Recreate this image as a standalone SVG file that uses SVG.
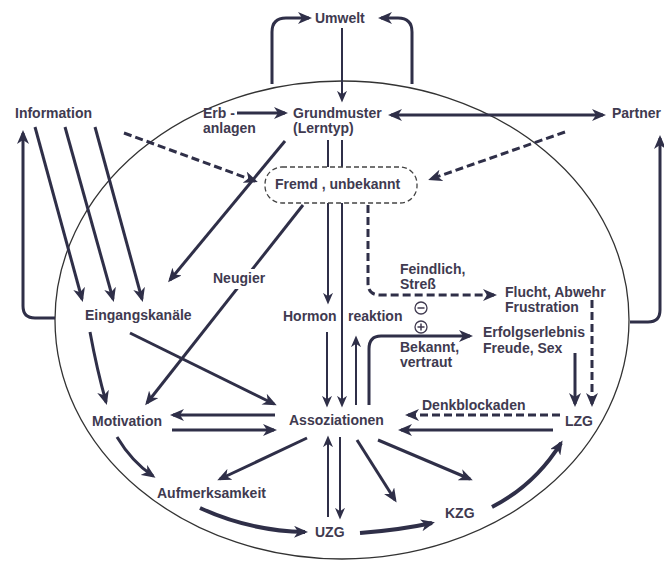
<svg xmlns="http://www.w3.org/2000/svg" width="664" height="565" viewBox="0 0 664 565">
<style>
text{font-family:"Liberation Sans",Arial,sans-serif;font-weight:bold;font-size:14px;fill:#403a50}
.c{fill:none;stroke:#2f2f48;stroke-width:3}
.t{stroke-width:2}
.k{stroke-width:4}
.d{stroke-dasharray:8 4}
.m{marker-end:url(#ah)}
.ms{marker-end:url(#ahs)}
</style>
<defs>
<marker id="ah" viewBox="0 0 14 12" refX="11" refY="6" markerWidth="14" markerHeight="12" markerUnits="userSpaceOnUse" orient="auto-start-reverse"><path d="M0,0 L14,6 L0,12 L4,6 z" fill="#2f2f48"/></marker>
<marker id="ahs" viewBox="0 0 14 12" refX="11" refY="6" markerWidth="12" markerHeight="10" markerUnits="userSpaceOnUse" orient="auto-start-reverse"><path d="M0,0 L14,6 L0,12 L4,6 z" fill="#2f2f48"/></marker>
</defs>
<rect width="664" height="565" fill="#fff"/>
<ellipse id="boundary" cx="342" cy="320" rx="287" ry="239" fill="none" stroke="#333" stroke-width="1.3"/>
<g id="connectors">
<path class="c m" d="M272,84 V32 Q272,18 286,18 H309"/>
<path class="c m" d="M412,84 V32 Q412,18 398,18 H381"/>
<path class="c t ms" d="M342,28 V100"/>
<path class="c m" d="M237,113 H285"/>
<path class="c m" d="M391,115 H603" marker-start="url(#ah)"/>
<path class="c m" d="M630,322 H648 Q660,322 660,310 V138"/>
<path class="c m" d="M55,318 H35 Q23,318 23,306 V133"/>
<path class="c m" d="M35,127 L82,299"/>
<path class="c m" d="M65,127 L113,299"/>
<path class="c m" d="M95,127 L142,299"/>
<path class="c d m" d="M124,133 L255,181"/>
<path class="c d m" d="M565,132 L431,179"/>
<path class="c m" d="M285,141 L170,280"/>
<path class="c m" d="M303,205 L147,403"/>
<path class="c t ms" d="M328,140 V302"/>
<path class="c t ms" d="M342,140 V405"/>
<path class="c t ms" d="M327,332 V405"/>
<path class="c t ms" d="M356,405 V338"/>
<path class="c m" d="M369,405 V349 Q369,336 381,336 H470"/>
<path class="c d m" d="M368,205 V283 Q368,295 380,295 H494"/>
<path class="c d m" d="M592,300 V404"/>
<path class="c m" d="M575,353 V404"/>
<path class="c d m" d="M560,415 H408"/>
<path class="c m" d="M553,430 H401"/>
<path class="c m" d="M275,415 H173"/>
<path class="c m" d="M172,430 H274"/>
<path class="c m" d="M90,332 Q97,370 106,402"/>
<path class="c m" d="M130,333 L274,404"/>
<path class="c m" d="M117,437 Q132,462 153,476"/>
<path class="c m" d="M307,438 L220,479"/>
<path class="c k m" d="M200,508 Q250,531 305,532"/>
<path class="c t ms" d="M328,517 V438"/>
<path class="c t ms" d="M340,437 V517"/>
<path class="c m" d="M357,440 L395,500"/>
<path class="c m" d="M378,440 L470,479"/>
<path class="c k m" d="M360,533 Q400,530 432,523"/>
<path class="c k m" d="M492,507 Q535,485 561,443"/>
</g>
<g id="umwelt"><text x="315" y="23">Umwelt</text></g>
<g id="information"><text x="15" y="118">Information</text></g>
<g id="erbanlagen"><text x="203" y="118">Erb -</text><text x="203" y="133">anlagen</text></g>
<g id="grundmuster"><text x="293" y="118">Grundmuster</text><text x="293" y="133">(Lerntyp)</text></g>
<g id="partner"><text x="612" y="118">Partner</text></g>
<g id="fremd"><rect x="265" y="167" width="152" height="36" rx="17" fill="#fff" stroke="#444" stroke-width="1.3" stroke-dasharray="5 3"/><text x="275" y="189">Fremd , unbekannt</text></g>
<g id="neugier"><rect x="210" y="269" width="61" height="20" fill="#fff"/><text x="213" y="283">Neugier</text></g>
<g id="eingangskanaele"><text x="85" y="320">Eingangskanäle</text></g>
<g id="hormonreaktion"><text x="283" y="321">Hormon</text><text x="348" y="321">reaktion</text></g>
<g id="feindlich"><text x="400" y="274">Feindlich,</text><text x="400" y="289">Streß</text></g>
<g id="flucht"><text x="505" y="297">Flucht, Abwehr</text><text x="505" y="312">Frustration</text></g>
<g id="signs"><circle cx="421" cy="308" r="6" fill="#fff" stroke="#403a50" stroke-width="1.3"/><path d="M417.5,308 H424.5" stroke="#403a50" stroke-width="1.5"/><circle cx="421" cy="327" r="6" fill="#fff" stroke="#403a50" stroke-width="1.3"/><path d="M417.5,327 H424.5 M421,323.5 V330.5" stroke="#403a50" stroke-width="1.5"/></g>
<g id="erfolg"><text x="483" y="337">Erfolgserlebnis</text><text x="483" y="353">Freude, Sex</text></g>
<g id="bekannt"><text x="400" y="352">Bekannt,</text><text x="400" y="367">vertraut</text></g>
<g id="motivation"><text x="92" y="426">Motivation</text></g>
<g id="assoziationen"><text x="289" y="425">Assoziationen</text></g>
<g id="denkblockaden"><text x="422" y="410">Denkblockaden</text></g>
<g id="lzg"><text x="565" y="426">LZG</text></g>
<g id="aufmerksamkeit"><text x="157" y="498">Aufmerksamkeit</text></g>
<g id="uzg"><text x="315" y="537">UZG</text></g>
<g id="kzg"><text x="445" y="518">KZG</text></g>
</svg>
